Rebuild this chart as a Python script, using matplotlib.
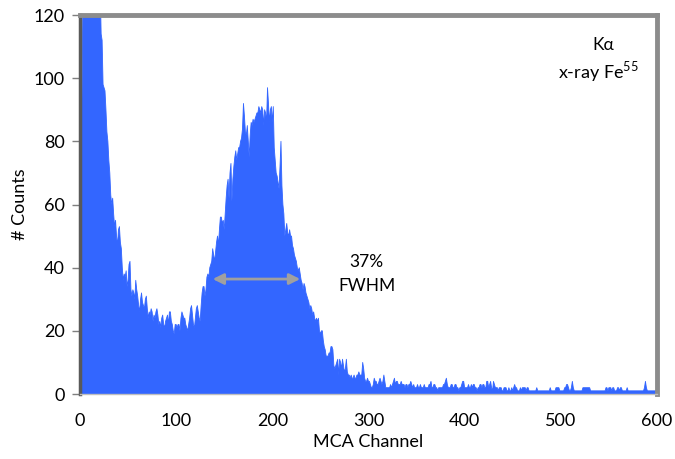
import numpy as np
import matplotlib.pyplot as plt

plt.rcParams['font.family'] = ['Lato', 'DejaVu Sans']
plt.rcParams['mathtext.fontset'] = 'custom'
plt.rcParams['mathtext.rm'] = 'Lato'

# counts per MCA channel, channel 0..600 (values above 120 are off scale)
counts = [
    2, 40, 90, 125, 150, 150, 150, 150, 150, 150, 150, 150, 150, 150, 150, 150, 150, 150, 150, 150,
    150, 130, 114, 112, 98, 97, 96, 90, 83, 80, 74, 70, 63, 60, 62, 57, 53, 55, 50, 47,
    52, 53, 48, 46, 40, 36, 38, 37, 39, 34, 36, 41, 42, 33, 31, 33, 32, 30, 36, 33,
    31, 28, 26, 30, 32, 29, 28, 27, 30, 31, 27, 24, 26, 25, 27, 26, 23, 25, 24, 26,
    27, 25, 22, 23, 21, 24, 25, 22, 21, 23, 24, 25, 22, 26, 26, 23, 22, 20, 19, 22,
    22, 21, 22, 22, 20, 24, 26, 25, 24, 24, 22, 21, 20, 22, 24, 27, 28, 25, 22, 21,
    24, 27, 28, 26, 24, 23, 28, 32, 34, 34, 31, 33, 37, 38, 37, 40, 41, 42, 46, 44,
    42, 45, 48, 50, 47, 52, 56, 56, 54, 55, 52, 57, 62, 66, 68, 62, 70, 73, 61, 68,
    72, 75, 77, 74, 76, 78, 78, 80, 81, 84, 92, 88, 83, 82, 85, 80, 75, 82, 86, 85,
    87, 86, 87, 88, 89, 89, 91, 90, 89, 91, 90, 85, 90, 89, 86, 97, 92, 86, 90, 91,
    86, 91, 78, 74, 70, 69, 67, 65, 72, 80, 66, 60, 57, 50, 52, 54, 51, 50, 52, 50,
    50, 47, 46, 44, 43, 42, 40, 39, 40, 38, 36, 35, 33, 35, 34, 32, 31, 30, 29, 27,
    28, 27, 25, 26, 24, 23, 24, 23, 24, 20, 19, 20, 20, 17, 15, 14, 12, 12, 12, 13,
    13, 15, 15, 14, 9, 8, 9, 10, 11, 6, 11, 10, 8, 11, 9, 7, 8, 11, 7, 6,
    6, 5, 6, 5, 5, 6, 5, 5, 6, 6, 7, 6, 6, 6, 10, 8, 5, 4, 4, 5,
    4, 4, 3, 2, 2, 3, 5, 4, 4, 3, 3, 4, 5, 4, 3, 4, 6, 4, 2, 2,
    2, 2, 2, 3, 2, 3, 4, 5, 3, 4, 4, 3, 3, 3, 4, 3, 3, 3, 2, 3,
    3, 2, 3, 3, 4, 3, 2, 3, 2, 2, 2, 3, 2, 2, 3, 2, 2, 2, 3, 2,
    2, 2, 2, 3, 3, 4, 2, 2, 3, 3, 2, 2, 1, 2, 2, 2, 2, 2, 3, 3,
    4, 5, 3, 2, 2, 2, 3, 3, 2, 2, 3, 3, 2, 2, 1, 2, 2, 3, 4, 4,
    2, 2, 2, 2, 3, 2, 2, 3, 2, 3, 3, 2, 2, 1, 2, 2, 3, 3, 2, 3,
    3, 2, 2, 4, 4, 2, 3, 4, 2, 1, 4, 3, 2, 2, 2, 1, 2, 2, 2, 1,
    1, 2, 2, 2, 1, 1, 2, 1, 1, 2, 1, 2, 3, 2, 2, 1, 1, 1, 2, 1,
    2, 2, 2, 2, 1, 2, 2, 1, 1, 1, 1, 1, 1, 1, 1, 2, 1, 1, 1, 1,
    1, 1, 1, 1, 1, 1, 1, 1, 1, 2, 1, 1, 1, 1, 1, 2, 2, 2, 2, 1,
    1, 1, 1, 1, 2, 2, 3, 3, 2, 1, 1, 2, 4, 2, 1, 1, 1, 1, 1, 1,
    1, 1, 1, 2, 2, 2, 2, 2, 2, 2, 2, 1, 1, 1, 1, 1, 1, 1, 1, 1,
    1, 1, 1, 1, 1, 1, 1, 2, 2, 1, 2, 2, 2, 1, 2, 2, 1, 1, 1, 2,
    2, 1, 2, 2, 1, 1, 1, 1, 1, 2, 1, 1, 1, 1, 1, 1, 1, 1, 1, 1,
    1, 1, 1, 1, 1, 1, 1, 2, 4, 2, 1, 1, 1, 1, 1, 1, 1, 1, 1, 1, 1,
]
channels = np.arange(len(counts))

x_ticks = [0, 100, 200, 300, 400, 500, 600]
y_ticks = [0, 20, 40, 60, 80, 100, 120]
fwhm_left, fwhm_right, fwhm_level = 138, 229, 36.4

fig = plt.figure(figsize=(6.75, 4.59), dpi=100)
ax = fig.add_axes([0.1185, 0.1416, 0.8548, 0.8257])

ax.fill_between(channels, counts, 0, color='#3366FF', lw=0.6, edgecolor='#3366FF')

ax.set_xlim(0, 600)
ax.set_ylim(0, 120)
ax.set_xticks(x_ticks)
ax.set_yticks(y_ticks)
ax.tick_params(axis='x', length=0, pad=14, labelsize=13)
ax.tick_params(axis='y', length=6, width=1, color='#7f7f7f', pad=5, labelsize=13)

ax.spines['left'].set_color('#595959')
ax.spines['left'].set_linewidth(2.5)
ax.spines['top'].set_color('#8c8c8c')
ax.spines['top'].set_linewidth(3.5)
ax.spines['right'].set_color('#8c8c8c')
ax.spines['right'].set_linewidth(3.5)
ax.spines['bottom'].set_color('#bfbfbf')
ax.spines['bottom'].set_linewidth(1)

ax.set_xlabel('MCA Channel', fontsize=13, labelpad=3)
ax.set_ylabel('# Counts', fontsize=13, labelpad=4)

# FWHM arrow
ax.annotate('', xy=(fwhm_left, fwhm_level), xytext=(fwhm_right, fwhm_level),
            arrowprops=dict(arrowstyle='<|-|>', color='#a0a0a0', lw=2,
                            mutation_scale=16, shrinkA=0, shrinkB=0))
ax.text(298, 41.8, '37%', ha='center', va='center', fontsize=12.5)
ax.text(298, 34.2, 'FWHM', ha='center', va='center', fontsize=12.5)

ax.text(544, 110.5, 'K\u03b1', ha='center', va='center', fontsize=12.5)
ax.text(539, 102, 'x-ray Fe$^{\\mathregular{55}}$', ha='center', va='center', fontsize=13)

fig.savefig('out.png', dpi=100)
